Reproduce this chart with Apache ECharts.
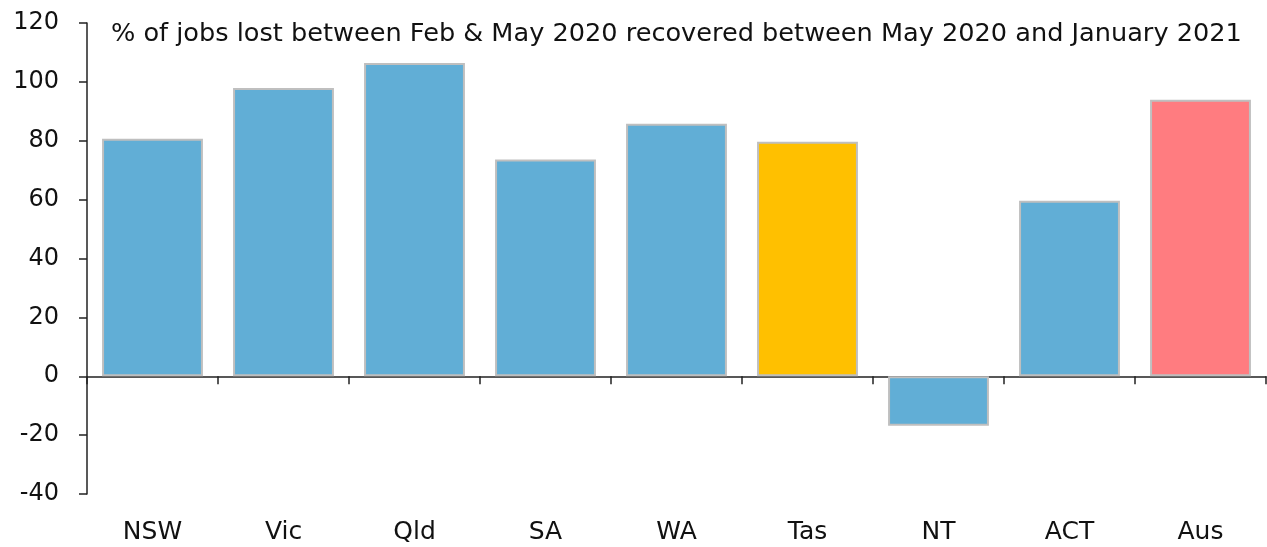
<!DOCTYPE html>
<html><head><meta charset="utf-8">
<script src="https://cdn.jsdelivr.net/npm/echarts@6/dist/echarts.min.js"></script>
<style>html,body{margin:0;padding:0;background:#fff}#c{width:1267px;height:547px}</style>
</head><body><div id="c"></div>
<script>
const categories = ['NSW','Vic','Qld','SA','WA','Tas','NT','ACT','Aus'];
const values = [80.7, 97.9, 106.4, 73.6, 85.8, 79.7, -16.8, 59.6, 93.9];
const barColors = ['#61AED6','#61AED6','#61AED6','#61AED6','#61AED6','#FFC000','#61AED6','#61AED6','#FF7C80'];
const yTicks = {min: -40, max: 120, interval: 20};
const titleText = '% of jobs lost between Feb & May 2020 recovered between May 2020 and January 2021';

const chart = echarts.init(document.getElementById('c'));
const font = '"DejaVu Sans", sans-serif';
chart.setOption({
  animation: false,
  title: {text: titleText, left: 106, top: 16, textStyle: {fontFamily: font, fontSize: 25.6, fontWeight: 'normal', color: '#111'}},
  grid: {left: 87, right: 1, top: 23, bottom: 53, containLabel: false},
  xAxis: [
    {type: 'category', data: categories, axisLine: {onZero: true, lineStyle: {color: '#222', width: 1.5}},
     axisTick: {show: true, length: 8, inside: false, lineStyle: {color: '#222', width: 1.5}},
     axisLabel: {show: false}},
    {type: 'category', data: categories, position: 'bottom', axisLine: {show: false}, axisTick: {show: false},
     axisLabel: {fontFamily: font, fontSize: 25, color: '#111', margin: 26}}
  ],
  yAxis: {type: 'value', min: yTicks.min, max: yTicks.max, interval: yTicks.interval,
    splitLine: {show: false},
    axisLine: {show: true, lineStyle: {color: '#222', width: 1.5}},
    axisTick: {show: true, length: 8, lineStyle: {color: '#222', width: 1.5}},
    axisLabel: {fontFamily: font, fontSize: 24, color: '#111', margin: 28}},
  series: [{
    type: 'bar', xAxisIndex: 0, barCategoryGap: '23%',
    data: values.map((v, i) => ({value: v, itemStyle: {color: barColors[i]}})),
    itemStyle: {borderColor: '#BFBFBF', borderWidth: 2}
  }]
});
</script></body></html>
